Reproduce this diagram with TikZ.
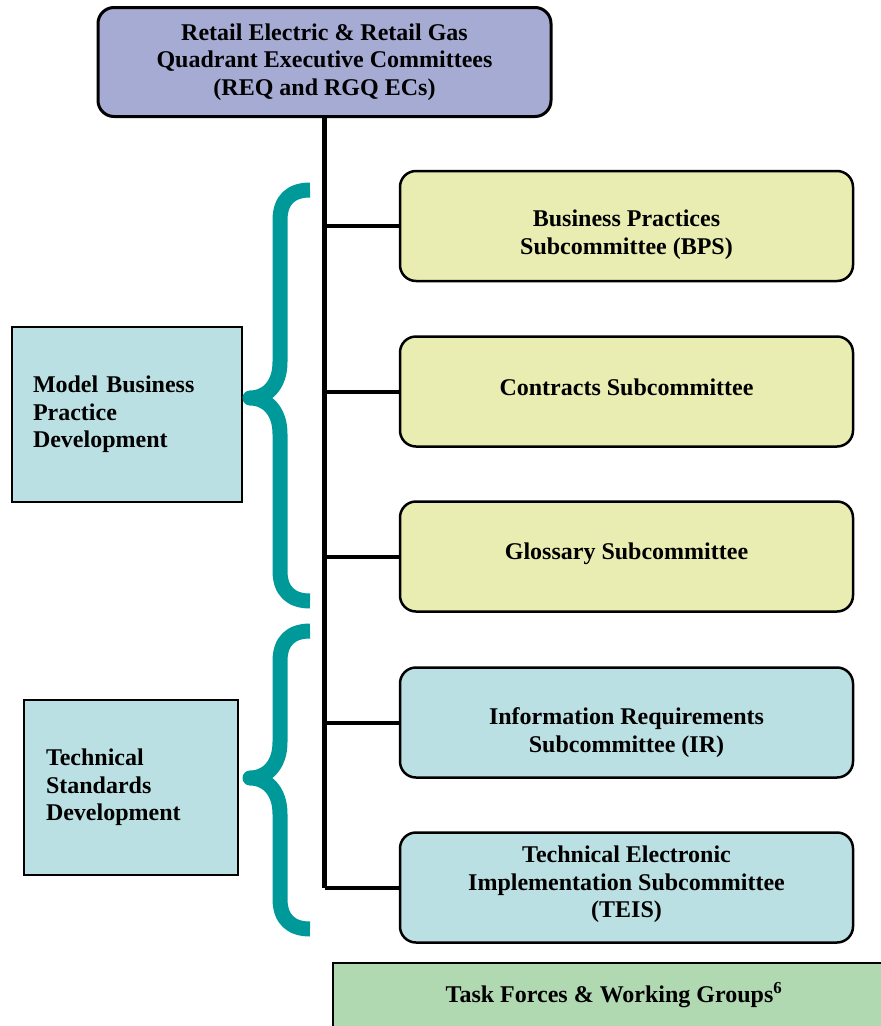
\documentclass[tikz,border=0pt]{standalone}
\usepackage{fontspec}
\setmainfont{Liberation Serif}
\usetikzlibrary{positioning}
\definecolor{ecblue}{RGB}{166,171,212}
\definecolor{subyellow}{RGB}{233,237,177}
\definecolor{subcyan}{RGB}{187,224,227}
\definecolor{tfgreen}{RGB}{176,217,178}
\definecolor{braceteal}{RGB}{0,153,153}
\tikzstyle{boxtext}=[font=\fontsize{24}{27.6}\selectfont\bfseries, align=center]
\tikzstyle{ecbox}=[boxtext, draw, line width=3pt, rounded corners=16pt, fill=ecblue, minimum width=453pt, minimum height=109pt]
\tikzstyle{subbox}=[draw, line width=2.5pt, rounded corners=16pt, minimum width=453pt, minimum height=110pt]
\tikzstyle{sidebox}=[boxtext, draw, line width=2pt, fill=subcyan, align=left, minimum height=175pt]
\tikzstyle{trunk}=[draw, line width=5pt]
\tikzstyle{branch}=[draw, line width=4pt]
\tikzstyle{curly}=[draw=braceteal, line width=15pt, line join=round]

\begin{document}
\begin{tikzpicture}[x=1pt,y=-1pt]
    \clip (0,0) rectangle (881,1026);

    \node[ecbox] (ec) at (324.5,62)
        {Retail Electric \& Retail Gas\\Quadrant Executive Committees\\(REQ and RGQ ECs)};

    % subcommittees on the right
    \foreach \pos/\name/\fillcol/\dy/\txt in {
        {(626.5,226)/bps/subyellow/-9/{Business Practices\\Subcommittee (BPS)}},
        {(626.5,391.5)/cs/subyellow/4/{Contracts Subcommittee}},
        {(626.5,556.5)/gs/subyellow/3/{Glossary Subcommittee}},
        {(626.5,722.5)/ir/subcyan/-10/{Information Requirements\\Subcommittee (IR)}},
        {(626.5,887.5)/teis/subcyan/3/{Technical Electronic\\Implementation\ Subcommittee\\(TEIS)}}}
        \node[subbox, fill=\fillcol, label={[boxtext, yshift=\dy pt]center:{\txt}}] (\name) at \pos {};

    % trunk and branches
    \path[trunk] (ec.south) -- (ec.south |- teis.west);
    \foreach \name in {bps, cs, gs, ir, teis}
        \path[branch] (ec.south |- \name.west) -- (\name.west);

    % groupings on the left
    \node[sidebox, text width=188pt, inner xsep=21pt] (mbp) at (127,414.5)
        {Model Business\\Practice\\Development};
    \node[sidebox, text width=170pt, inner xsep=22pt] (tsd) at (131,787.5)
        {Technical\\Standards\\Development};

    \foreach \top/\tip/\bot in {190/398/601, 631/778/929}
        \draw[curly] (310,\top) .. controls (291,\top) and (280,\top+10) .. (280,\top+30)
            -- (280,\tip-36) .. controls (280,\tip-12) and (266,\tip) .. (250,\tip)
            .. controls (266,\tip) and (280,\tip+12) .. (280,\tip+36)
            -- (280,\bot-30) .. controls (280,\bot-10) and (291,\bot) .. (310,\bot);

    \node[boxtext, draw, line width=2pt, fill=tfgreen, minimum width=562pt, minimum height=64pt] (tf) at (614,995)
        {Task Forces \& Working Groups\textsuperscript{6}};
\end{tikzpicture}
\end{document}
